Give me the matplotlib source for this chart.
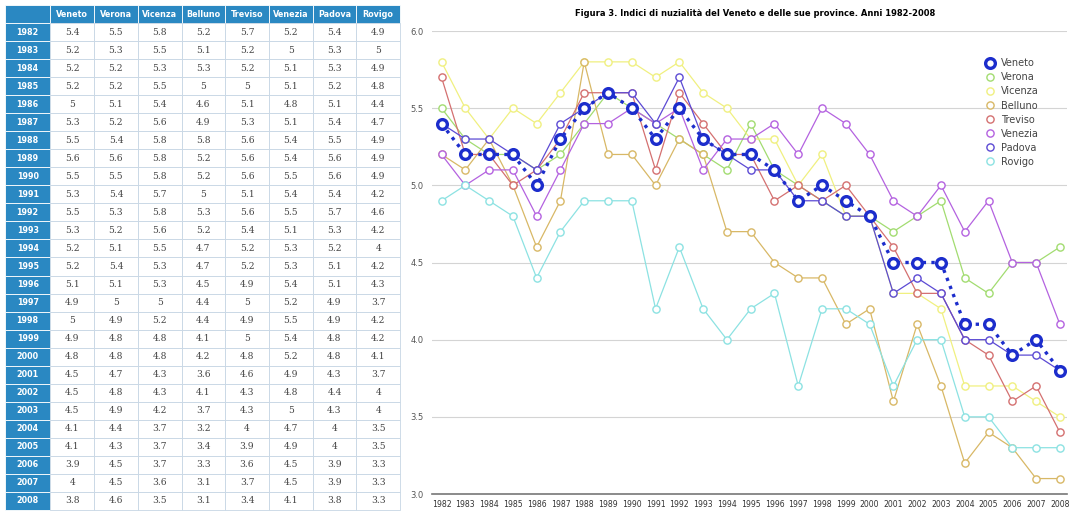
import matplotlib
matplotlib.use('Agg')
import matplotlib.pyplot as plt

# --- dati ---
anni = list(range(1982, 2009))
province = ["Veneto", "Verona", "Vicenza", "Belluno", "Treviso", "Venezia", "Padova", "Rovigo"]

veneto = [5.4, 5.2, 5.2, 5.2, 5, 5.3, 5.5, 5.6, 5.5, 5.3, 5.5, 5.3, 5.2, 5.2, 5.1, 4.9, 5, 4.9, 4.8, 4.5, 4.5, 4.5, 4.1, 4.1, 3.9, 4, 3.8]
verona = [5.5, 5.3, 5.2, 5.2, 5.1, 5.2, 5.4, 5.6, 5.5, 5.4, 5.3, 5.2, 5.1, 5.4, 5.1, 5, 4.9, 4.8, 4.8, 4.7, 4.8, 4.9, 4.4, 4.3, 4.5, 4.5, 4.6]
vicenza = [5.8, 5.5, 5.3, 5.5, 5.4, 5.6, 5.8, 5.8, 5.8, 5.7, 5.8, 5.6, 5.5, 5.3, 5.3, 5, 5.2, 4.8, 4.8, 4.3, 4.3, 4.2, 3.7, 3.7, 3.7, 3.6, 3.5]
belluno = [5.2, 5.1, 5.3, 5, 4.6, 4.9, 5.8, 5.2, 5.2, 5, 5.3, 5.2, 4.7, 4.7, 4.5, 4.4, 4.4, 4.1, 4.2, 3.6, 4.1, 3.7, 3.2, 3.4, 3.3, 3.1, 3.1]
treviso = [5.7, 5.2, 5.2, 5, 5.1, 5.3, 5.6, 5.6, 5.6, 5.1, 5.6, 5.4, 5.2, 5.2, 4.9, 5, 4.9, 5, 4.8, 4.6, 4.3, 4.3, 4, 3.9, 3.6, 3.7, 3.4]
venezia = [5.2, 5, 5.1, 5.1, 4.8, 5.1, 5.4, 5.4, 5.5, 5.4, 5.5, 5.1, 5.3, 5.3, 5.4, 5.2, 5.5, 5.4, 5.2, 4.9, 4.8, 5, 4.7, 4.9, 4.5, 4.5, 4.1]
padova = [5.4, 5.3, 5.3, 5.2, 5.1, 5.4, 5.5, 5.6, 5.6, 5.4, 5.7, 5.3, 5.2, 5.1, 5.1, 4.9, 4.9, 4.8, 4.8, 4.3, 4.4, 4.3, 4, 4, 3.9, 3.9, 3.8]
rovigo = [4.9, 5, 4.9, 4.8, 4.4, 4.7, 4.9, 4.9, 4.9, 4.2, 4.6, 4.2, 4, 4.2, 4.3, 3.7, 4.2, 4.2, 4.1, 3.7, 4, 4, 3.5, 3.5, 3.3, 3.3, 3.3]

serie = [veneto, verona, vicenza, belluno, treviso, venezia, padova, rovigo]
colori = ["#1c2dcc", "#a2dc70", "#f0f080", "#d8b866", "#d47070", "#b462e0", "#5c4ad4", "#8ce2e2"]
yticks = [3.0, 3.5, 4.0, 4.5, 5.0, 5.5, 6.0]

fig = plt.figure(figsize=(10.72, 5.13), dpi=100)
W, H = 1072, 513

# --- tabella ---
tax = fig.add_axes([5 / W, 3 / H, 395 / W, 505 / H])
tax.axis("off")

def fmt(v):
    return str(int(v)) if v == int(v) else f"{v:g}"

righe = [[str(a)] + [fmt(s[i]) for s in serie] for i, a in enumerate(anni)]
tab = tax.table(cellText=righe, colLabels=[""] + province,
                bbox=[0, 0, 1, 1], cellLoc="center")
tab.auto_set_font_size(False)
blu = "#2a88c2"
for (r, c), cell in tab.get_celld().items():
    cell.set_edgecolor("#c6d6e4")
    cell.set_linewidth(0.6)
    cell.set_width(0.115 if c == 0 else (1 - 0.115) / 8)
    txt = cell.get_text()
    if r == 0 or c == 0:
        cell.set_facecolor(blu)
        cell.set_edgecolor("#ffffff")
        txt.set_color("white")
        txt.set_fontsize(5.8)
        txt.set_fontweight("bold")
    else:
        cell.set_facecolor("white")
        txt.set_color("#444444")
        txt.set_fontsize(6.6)
        txt.set_family("DejaVu Serif")

# --- grafico ---
ax = fig.add_axes([432 / W, 19 / H, 635 / W, 463 / H])
for nome, s, col in zip(province, serie, colori):
    if nome == "Veneto":
        ax.plot(anni, s, color=col, lw=2.4, ls=(0, (1, 1.6)), marker="o", ms=7,
                mfc="white", mec=col, mew=2.4, label=nome, zorder=5)
    else:
        ax.plot(anni, s, color=col, lw=0.9, marker="o", ms=5.2,
                mfc="white", mec=col, mew=1.0, label=nome, zorder=3)

ax.set_xlim(1981.6, 2008.3)
ax.set_ylim(3.0, 6.0)
ax.set_yticks(yticks)
ax.set_yticklabels([f"{v:.1f}" for v in yticks])
ax.set_xticks(anni)
ax.tick_params(axis="x", labelsize=5.6, length=0, pad=4, colors="#333333")
ax.tick_params(axis="y", labelsize=6, length=0, pad=6, colors="#555555")
ax.grid(axis="y", color="#d4d4d4", lw=0.8)
for sp in ["top", "right", "left"]:
    ax.spines[sp].set_visible(False)
ax.spines["bottom"].set_color("#777777")
ax.spines["bottom"].set_linewidth(1.2)

leg = ax.legend(loc="upper right", bbox_to_anchor=(0.97, 0.96), frameon=False,
                fontsize=7, handlelength=1.2, labelspacing=0.42, handletextpad=0.6)
for h in leg.legend_handles:
    h.set_linestyle("none")
for t in leg.get_texts():
    t.set_color("#444444")

fig.text(755 / W, 1 - 14 / H,
         "Figura 3. Indici di nuzialità del Veneto e delle sue province. Anni 1982-2008",
         ha="center", va="center", fontsize=6, fontweight="bold")

plt.savefig("out.png", dpi=100)
